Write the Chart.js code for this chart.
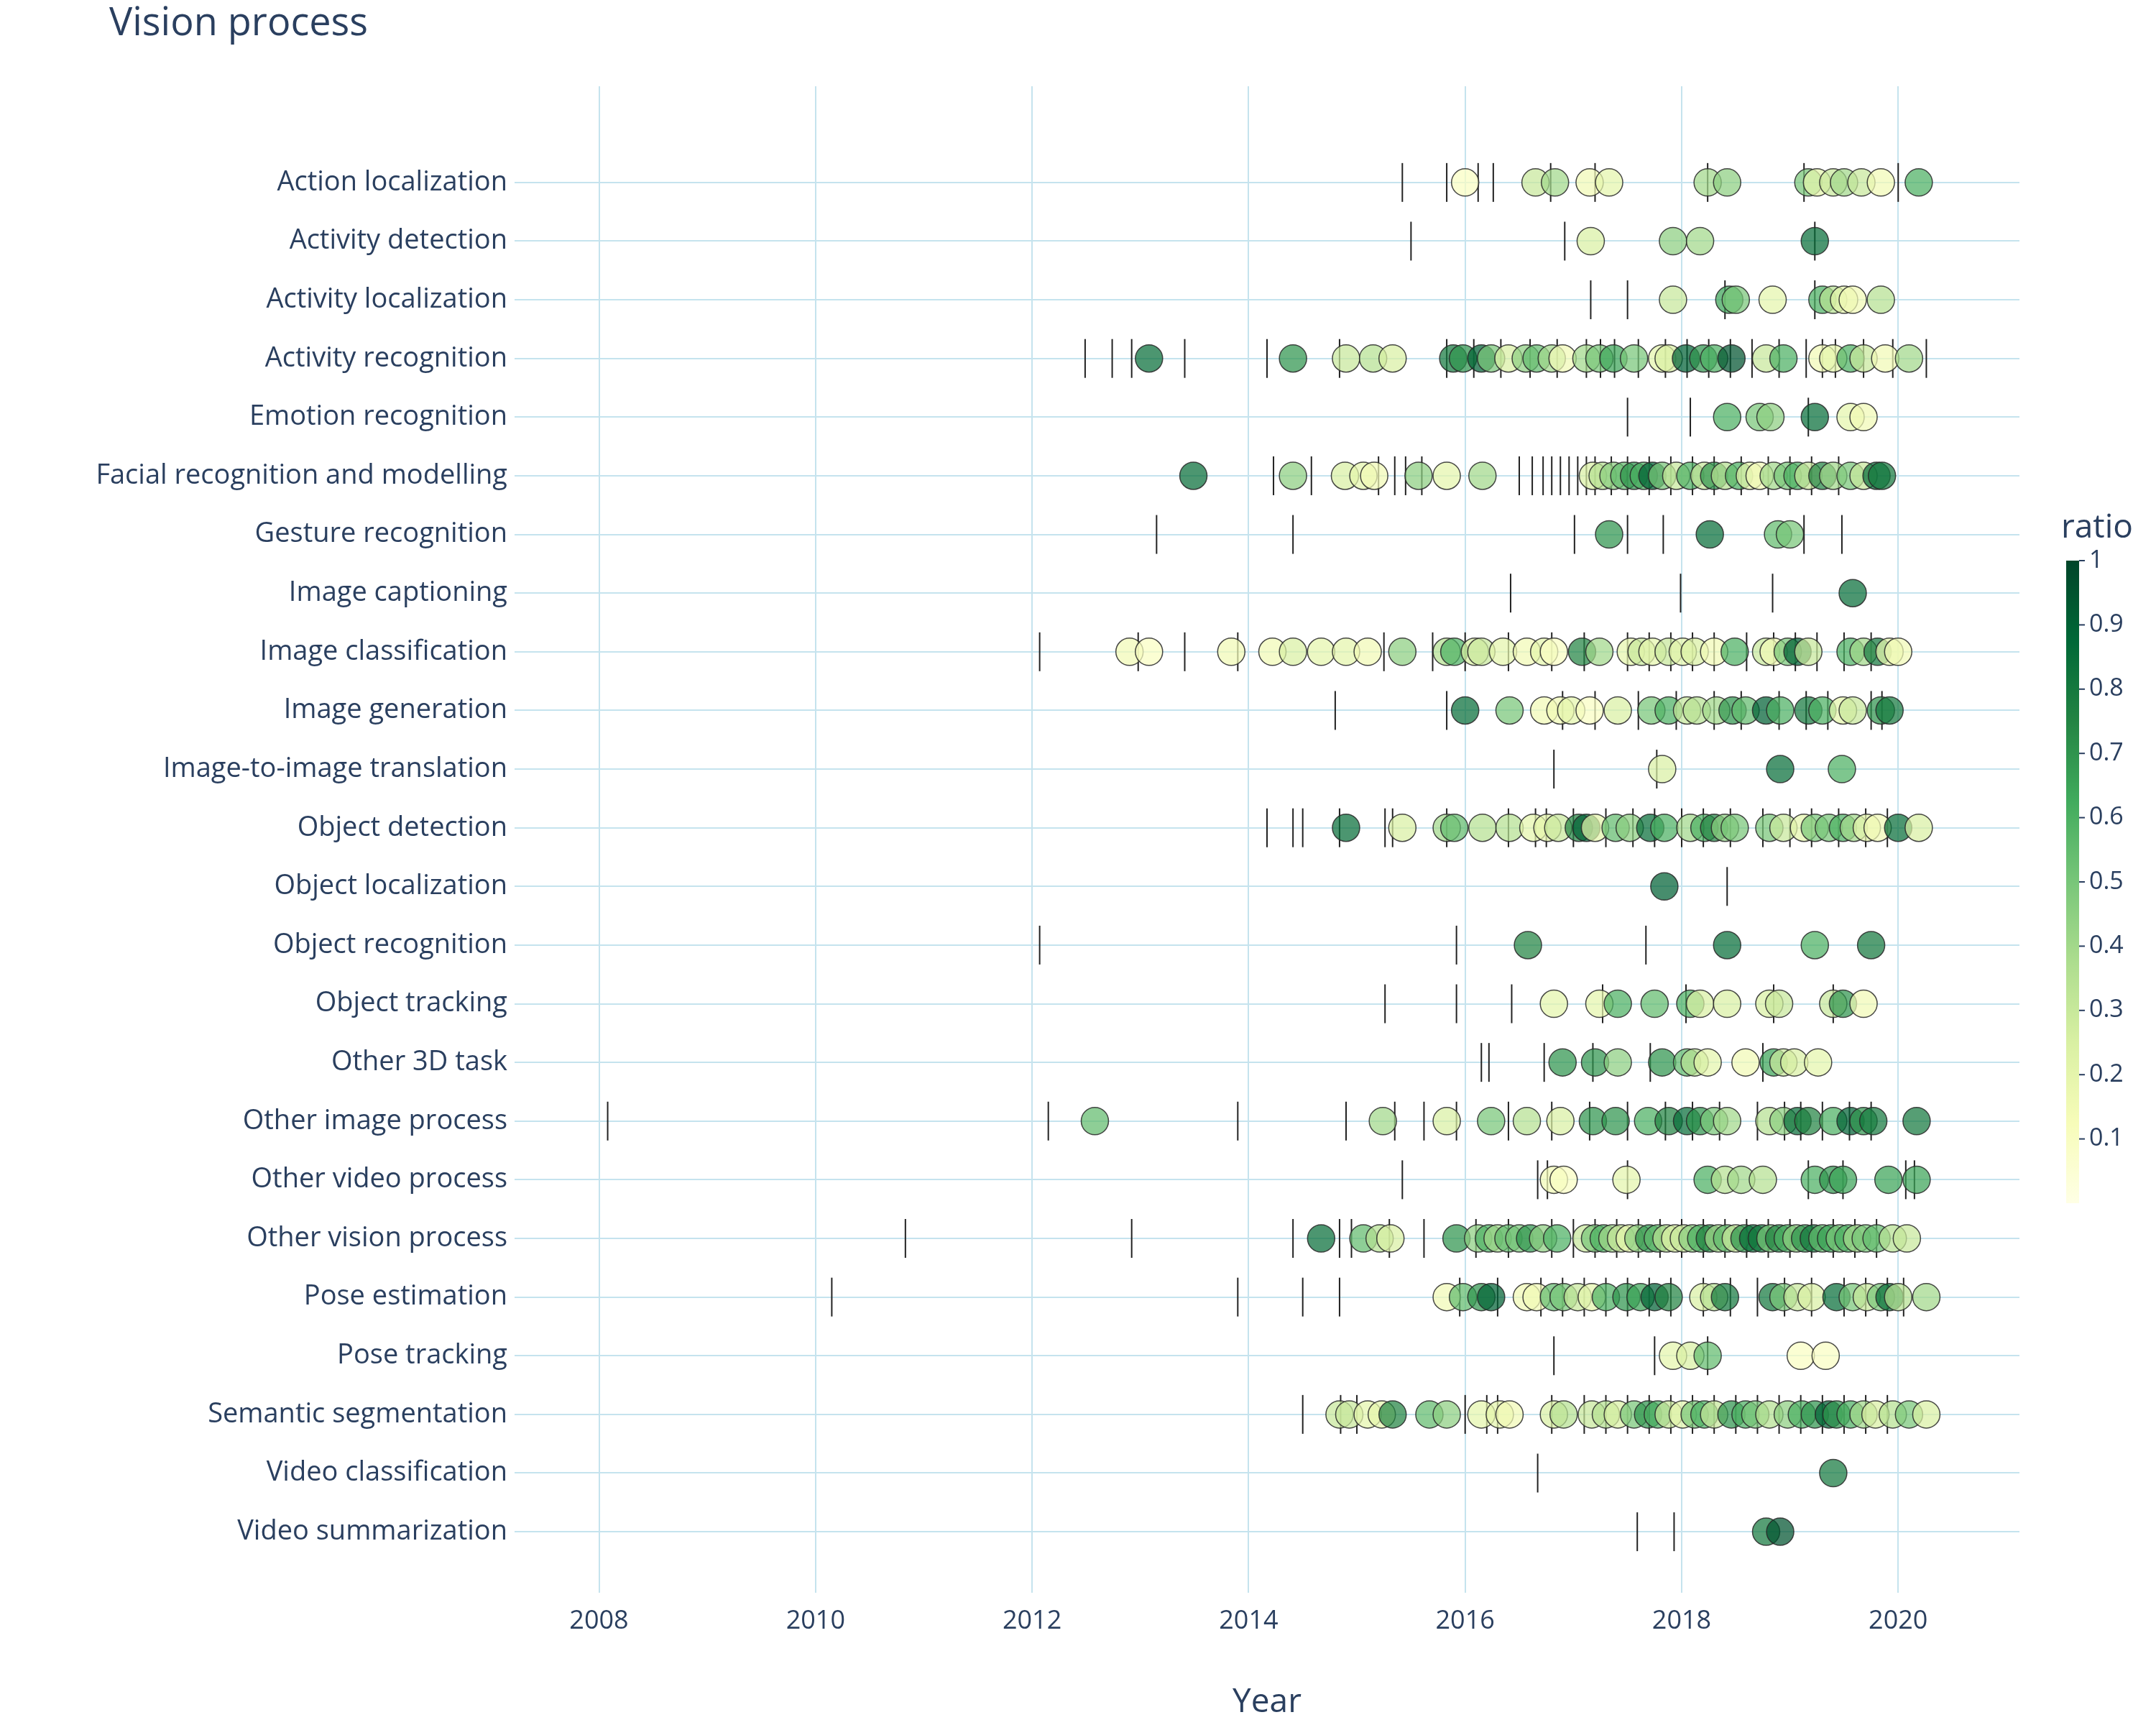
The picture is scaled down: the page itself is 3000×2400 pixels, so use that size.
<!DOCTYPE html>
<html>
<head>
<meta charset="utf-8">
<script src="https://cdn.jsdelivr.net/npm/chart.js@4.4.1/dist/chart.umd.min.js"></script>
<style>
  html, body { margin: 0; padding: 0; background: #fff; }
  canvas { display: block; }
</style>
</head>
<body>
<canvas id="chart" width="3000" height="2400"></canvas>
<script>
const categories = ['Action localization','Activity detection','Activity localization','Activity recognition','Emotion recognition','Facial recognition and modelling','Gesture recognition','Image captioning','Image classification','Image generation','Image-to-image translation','Object detection','Object localization','Object recognition','Object tracking','Other 3D task','Other image process','Other video process','Other vision process','Pose estimation','Pose tracking','Semantic segmentation','Video classification','Video summarization'];

// years of the paper dots per category
const dotYears = [
  [2016.0,2016.65,2016.83,2017.15,2017.33,2018.24,2018.42,2019.17,2019.25,2019.4,2019.5,2019.66,2019.84,2020.19],
  [2017.16,2017.92,2018.17,2019.23],
  [2017.92,2018.44,2018.5,2018.84,2019.3,2019.4,2019.5,2019.58,2019.84],
  [2013.08,2014.41,2014.9,2015.15,2015.33,2015.89,2015.98,2016.15,2016.24,2016.4,2016.56,2016.66,2016.8,2016.9,2017.12,2017.24,2017.37,2017.56,2017.82,2017.88,2018.04,2018.2,2018.3,2018.46,2018.78,2018.94,2019.3,2019.4,2019.56,2019.68,2019.88,2020.1],
  [2018.42,2018.72,2018.82,2019.23,2019.56,2019.68],
  [2013.49,2014.41,2014.89,2015.06,2015.16,2015.57,2015.83,2016.16,2017.18,2017.27,2017.37,2017.47,2017.56,2017.65,2017.73,2017.82,2017.95,2018.08,2018.21,2018.3,2018.4,2018.53,2018.63,2018.72,2018.85,2018.98,2019.07,2019.17,2019.3,2019.4,2019.56,2019.68,2019.8,2019.85],
  [2017.33,2018.26,2018.89,2019.0],
  [2019.58],
  [2012.9,2013.08,2013.84,2014.22,2014.41,2014.67,2014.9,2015.1,2015.42,2015.83,2015.9,2016.09,2016.15,2016.35,2016.57,2016.73,2016.82,2017.08,2017.24,2017.53,2017.63,2017.73,2017.88,2018.01,2018.12,2018.3,2018.49,2018.78,2018.85,2018.98,2019.07,2019.17,2019.56,2019.68,2019.81,2019.92,2020.0],
  [2016.0,2016.41,2016.73,2016.88,2016.98,2017.15,2017.41,2017.72,2017.88,2018.05,2018.14,2018.32,2018.47,2018.59,2018.78,2018.91,2019.17,2019.3,2019.49,2019.58,2019.84,2019.92],
  [2017.82,2018.91,2019.48],
  [2014.9,2015.42,2015.83,2015.9,2016.16,2016.41,2016.63,2016.76,2016.86,2017.05,2017.12,2017.2,2017.39,2017.52,2017.71,2017.84,2018.08,2018.21,2018.3,2018.4,2018.49,2018.81,2018.94,2019.13,2019.23,2019.36,2019.49,2019.59,2019.71,2019.81,2020.0,2020.19],
  [2017.84],
  [2016.58,2018.42,2019.23,2019.75],
  [2016.82,2017.24,2017.41,2017.75,2018.08,2018.17,2018.42,2018.81,2018.9,2019.4,2019.49,2019.68],
  [2016.9,2017.2,2017.41,2017.82,2018.05,2018.12,2018.24,2018.59,2018.85,2018.94,2019.04,2019.26],
  [2012.58,2015.24,2015.83,2016.24,2016.57,2016.88,2017.18,2017.39,2017.69,2017.88,2018.05,2018.17,2018.3,2018.42,2018.81,2018.94,2019.07,2019.17,2019.4,2019.56,2019.68,2019.77,2020.17],
  [2016.82,2016.91,2017.49,2018.24,2018.4,2018.55,2018.75,2019.23,2019.4,2019.49,2019.91,2020.17],
  [2014.67,2015.06,2015.21,2015.31,2015.92,2016.12,2016.22,2016.3,2016.4,2016.5,2016.6,2016.72,2016.85,2017.12,2017.2,2017.28,2017.36,2017.44,2017.52,2017.6,2017.7,2017.78,2017.86,2017.94,2018.02,2018.1,2018.18,2018.26,2018.34,2018.42,2018.5,2018.58,2018.66,2018.74,2018.82,2018.9,2018.98,2019.06,2019.14,2019.22,2019.3,2019.38,2019.46,2019.54,2019.62,2019.7,2019.8,2019.95,2020.08],
  [2015.83,2015.98,2016.15,2016.24,2016.57,2016.66,2016.82,2016.91,2017.04,2017.17,2017.3,2017.49,2017.62,2017.75,2017.88,2018.2,2018.3,2018.4,2018.84,2018.94,2019.07,2019.2,2019.43,2019.58,2019.71,2019.84,2019.92,2020.0,2020.26],
  [2017.92,2018.08,2018.24,2019.1,2019.33],
  [2014.84,2014.93,2015.1,2015.23,2015.33,2015.67,2015.83,2016.15,2016.32,2016.41,2016.82,2016.91,2017.17,2017.3,2017.41,2017.56,2017.69,2017.78,2017.88,2018.01,2018.12,2018.21,2018.3,2018.46,2018.59,2018.68,2018.81,2018.98,2019.11,2019.23,2019.36,2019.43,2019.56,2019.68,2019.79,2019.95,2020.1,2020.26],
  [2019.4],
  [2018.78,2018.91]
];

// ratio of each dot (colour)
const dotRatios = [
  [0.1,0.3,0.4,0.15,0.2,0.4,0.45,0.5,0.2,0.3,0.4,0.3,0.15,0.6],
  [0.25,0.45,0.4,0.85],
  [0.3,0.65,0.5,0.2,0.6,0.35,0.2,0.15,0.35],
  [0.85,0.7,0.3,0.35,0.25,0.8,0.7,0.9,0.5,0.25,0.45,0.55,0.4,0.15,0.4,0.5,0.65,0.5,0.2,0.25,0.9,0.7,0.6,0.95,0.3,0.6,0.15,0.2,0.6,0.3,0.15,0.4],
  [0.6,0.5,0.45,0.85,0.2,0.15],
  [0.85,0.45,0.25,0.2,0.15,0.45,0.2,0.4,0.25,0.35,0.45,0.55,0.7,0.6,0.9,0.5,0.3,0.6,0.3,0.7,0.35,0.6,0.2,0.15,0.4,0.5,0.6,0.3,0.75,0.4,0.5,0.3,0.85,0.8],
  [0.7,0.85,0.55,0.5],
  [0.85],
  [0.15,0.1,0.15,0.15,0.25,0.2,0.2,0.15,0.45,0.35,0.6,0.25,0.3,0.2,0.15,0.2,0.1,0.75,0.4,0.2,0.3,0.2,0.3,0.2,0.25,0.15,0.6,0.3,0.15,0.5,0.9,0.3,0.6,0.4,0.8,0.2,0.15],
  [0.85,0.5,0.15,0.15,0.2,0.1,0.25,0.5,0.6,0.3,0.35,0.4,0.7,0.55,0.9,0.6,0.8,0.6,0.2,0.3,0.7,0.8],
  [0.25,0.85,0.6],
  [0.85,0.25,0.4,0.55,0.35,0.35,0.2,0.2,0.3,0.75,0.9,0.2,0.55,0.45,0.85,0.6,0.4,0.6,0.75,0.45,0.5,0.5,0.3,0.2,0.5,0.5,0.6,0.4,0.2,0.15,0.85,0.25],
  [0.9],
  [0.75,0.85,0.6,0.8],
  [0.2,0.2,0.6,0.55,0.6,0.25,0.25,0.25,0.3,0.3,0.7,0.15],
  [0.7,0.7,0.45,0.7,0.55,0.35,0.2,0.15,0.65,0.3,0.25,0.2],
  [0.55,0.4,0.25,0.5,0.35,0.25,0.7,0.7,0.6,0.75,0.85,0.7,0.5,0.4,0.35,0.45,0.85,0.75,0.6,0.9,0.7,0.8,0.8],
  [0.15,0.1,0.2,0.6,0.35,0.4,0.35,0.6,0.7,0.65,0.65,0.65],
  [0.85,0.55,0.35,0.25,0.7,0.45,0.6,0.4,0.55,0.5,0.7,0.45,0.6,0.3,0.5,0.6,0.4,0.3,0.2,0.45,0.7,0.55,0.35,0.25,0.3,0.45,0.6,0.75,0.4,0.55,0.3,0.7,0.85,0.8,0.5,0.75,0.6,0.45,0.7,0.8,0.55,0.65,0.5,0.6,0.4,0.5,0.55,0.35,0.3],
  [0.15,0.55,0.7,0.9,0.15,0.15,0.55,0.5,0.3,0.2,0.6,0.7,0.65,0.9,0.75,0.25,0.35,0.8,0.8,0.5,0.3,0.25,0.85,0.5,0.3,0.5,0.85,0.35,0.4],
  [0.2,0.25,0.55,0.1,0.1],
  [0.3,0.3,0.2,0.2,0.75,0.55,0.45,0.2,0.2,0.15,0.25,0.35,0.3,0.35,0.25,0.5,0.7,0.6,0.3,0.2,0.5,0.6,0.3,0.7,0.6,0.5,0.35,0.45,0.6,0.7,0.9,0.7,0.6,0.4,0.25,0.35,0.5,0.25],
  [0.8],
  [0.8,0.95]
];

// years of the vertical tick marks per category
const tickYears = [
  [2015.42,2015.83,2016.12,2016.26,2016.79,2017.2,2018.24,2019.13,2020.0],
  [2015.5,2016.92,2019.23],
  [2017.16,2017.5,2018.4,2019.23],
  [2012.49,2012.74,2012.92,2013.41,2014.17,2014.84,2015.83,2016.08,2016.33,2016.6,2016.85,2017.12,2017.25,2017.38,2017.6,2017.85,2018.05,2018.25,2018.45,2018.65,2018.9,2019.15,2019.3,2019.42,2019.68,2019.95,2020.26],
  [2017.5,2018.08,2019.17],
  [2014.23,2014.58,2015.2,2015.35,2015.45,2015.6,2016.5,2016.62,2016.72,2016.8,2016.88,2016.96,2017.04,2017.12,2017.2,2017.35,2017.5,2017.7,2017.9,2018.1,2018.3,2018.55,2018.8,2019.0,2019.2,2019.45],
  [2013.15,2014.41,2017.01,2017.5,2017.83,2019.13,2019.48],
  [2016.42,2017.99,2018.84],
  [2012.07,2012.98,2013.41,2013.9,2015.25,2015.7,2016.0,2016.4,2016.8,2017.1,2017.5,2017.7,2017.9,2018.1,2018.3,2018.6,2018.85,2019.05,2019.25,2019.5,2019.75],
  [2014.8,2015.83,2016.9,2017.2,2017.6,2017.95,2018.3,2018.55,2018.9,2019.15,2019.35,2019.75,2019.85],
  [2016.82,2017.77],
  [2014.17,2014.41,2014.5,2014.84,2015.26,2015.33,2015.83,2016.4,2016.65,2016.75,2017.0,2017.3,2017.55,2017.75,2018.0,2018.2,2018.45,2018.75,2019.0,2019.2,2019.45,2019.7,2019.9],
  [2018.42],
  [2012.07,2015.92,2017.67],
  [2015.26,2015.92,2016.43,2017.27,2018.04,2018.85,2019.4],
  [2016.15,2016.22,2016.73,2017.18,2017.71,2018.75],
  [2008.08,2012.15,2013.9,2014.9,2015.35,2015.62,2015.92,2016.4,2016.8,2017.15,2017.5,2017.85,2018.1,2018.35,2018.7,2018.95,2019.1,2019.3,2019.55,2019.75],
  [2015.42,2016.67,2016.76,2017.5,2019.17,2019.49,2020.07,2020.15],
  [2010.83,2012.92,2014.41,2014.84,2014.95,2015.3,2015.62,2016.1,2016.4,2016.8,2017.0,2017.2,2017.4,2017.6,2017.8,2018.0,2018.2,2018.4,2018.6,2018.8,2019.0,2019.2,2019.4,2019.6,2019.8],
  [2010.15,2013.9,2014.5,2014.84,2015.95,2016.3,2016.7,2016.9,2017.1,2017.3,2017.5,2017.7,2017.9,2018.2,2018.45,2018.7,2018.95,2019.2,2019.5,2019.7,2019.9,2020.05],
  [2016.82,2017.75,2018.24],
  [2014.5,2014.85,2015.0,2016.0,2016.2,2016.3,2016.8,2017.1,2017.3,2017.5,2017.7,2017.9,2018.1,2018.3,2018.5,2018.7,2018.9,2019.1,2019.3,2019.5,2019.7,2019.9],
  [2016.67],
  [2017.59,2017.93]
];

const xTickYears = [2008, 2010, 2012, 2014, 2016, 2018, 2020];
const ratioTicks = [0.1, 0.2, 0.3, 0.4, 0.5, 0.6, 0.7, 0.8, 0.9, 1];

const ylgn = [
  [0, [255,255,229]], [0.125, [247,252,185]], [0.25, [217,240,163]], [0.375, [173,221,142]],
  [0.5, [120,198,121]], [0.625, [65,171,93]], [0.75, [35,132,67]], [0.875, [0,104,55]], [1, [0,69,41]]
];

function ratioColor(v, alpha) {
  v = Math.max(0, Math.min(1, v));
  for (let i = 1; i < ylgn.length; i++) {
    if (v <= ylgn[i][0]) {
      const [a, ca] = ylgn[i - 1], [b, cb] = ylgn[i];
      const t = (v - a) / (b - a);
      const c = ca.map((x, k) => Math.round(x + (cb[k] - x) * t));
      return `rgba(${c[0]},${c[1]},${c[2]},${alpha})`;
    }
  }
}

const dotPoints = [], dotColors = [];
const tickPoints = [];
categories.forEach((c, row) => {
  dotYears[row].forEach((yr, i) => {
    dotPoints.push({ x: yr, y: row });
    dotColors.push(ratioColor(dotRatios[row][i], 0.72));
  });
  tickYears[row].forEach(yr => tickPoints.push({ x: yr, y: row }));
});

const FONT = '"Open Sans", "DejaVu Sans", sans-serif';
const TEXT = '#2a3f5f';

const extras = {
  id: 'extras',
  afterDraw(chart) {
    const ctx = chart.ctx;
    ctx.save();
    ctx.fillStyle = TEXT;
    ctx.font = `54px ${FONT}`;
    ctx.textBaseline = 'middle';
    ctx.textAlign = 'left';
    ctx.fillText('Vision process', 152, 34);

    // colour bar
    const x0 = 2875, w = 18, top = 780, bot = 1674;
    const g = ctx.createLinearGradient(0, bot, 0, top);
    ylgn.forEach(([p, c]) => g.addColorStop(p, `rgb(${c[0]},${c[1]},${c[2]})`));
    ctx.fillStyle = g;
    ctx.fillRect(x0, top, w, bot - top);
    ctx.fillStyle = TEXT;
    ctx.font = `46px ${FONT}`;
    ctx.fillText('ratio', 2868, 735);
    ctx.font = `34px ${FONT}`;
    ctx.strokeStyle = TEXT;
    ctx.lineWidth = 2;
    ratioTicks.forEach(v => {
      const y = bot - (bot - top) * v;
      ctx.beginPath();
      ctx.moveTo(x0 + w, y);
      ctx.lineTo(x0 + w + 8, y);
      ctx.stroke();
      ctx.fillText(String(v), x0 + w + 14, y);
    });
    ctx.restore();
  }
};

new Chart(document.getElementById('chart'), {
  type: 'scatter',
  data: {
    datasets: [
      {
        data: dotPoints,
        pointBackgroundColor: dotColors,
        pointBorderColor: 'rgba(40,40,40,0.85)',
        pointBorderWidth: 1.5,
        pointRadius: 19,
        pointHoverRadius: 19
      },
      {
        data: tickPoints,
        pointStyle: 'line',
        rotation: 90,
        pointBorderColor: '#222',
        pointBorderWidth: 2,
        pointRadius: 27,
        pointHoverRadius: 27
      }
    ]
  },
  options: {
    responsive: false,
    devicePixelRatio: 1,
    animation: false,
    layout: { padding: { left: 0, top: 120, right: 190, bottom: 0 } },
    plugins: { legend: { display: false }, tooltip: { enabled: false } },
    scales: {
      x: {
        type: 'linear',
        min: 2007.22,
        max: 2021.12,
        afterBuildTicks: s => { s.ticks = xTickYears.map(v => ({ value: v })); },
        afterFit: s => { s.height = 2400 - 2216; },
        grid: { color: '#c5e3ee', lineWidth: 2, drawTicks: false },
        border: { display: false },
        ticks: { color: TEXT, font: { size: 36, family: FONT }, padding: 18, callback: v => String(v) },
        title: { display: true, text: 'Year', color: TEXT, font: { size: 46, family: FONT }, padding: { top: 14 } }
      },
      y: {
        type: 'linear',
        reverse: true,
        min: -1.64,
        max: 24.04,
        afterBuildTicks: s => { s.ticks = categories.map((c, i) => ({ value: i })); },
        afterFit: s => { s.width = 716; },
        grid: { color: '#c5e3ee', lineWidth: 2, drawTicks: false },
        border: { display: false },
        ticks: { color: TEXT, font: { size: 38, family: FONT }, padding: 10, callback: v => categories[v] ?? '' }
      }
    }
  },
  plugins: [extras]
});
</script>
</body>
</html>
